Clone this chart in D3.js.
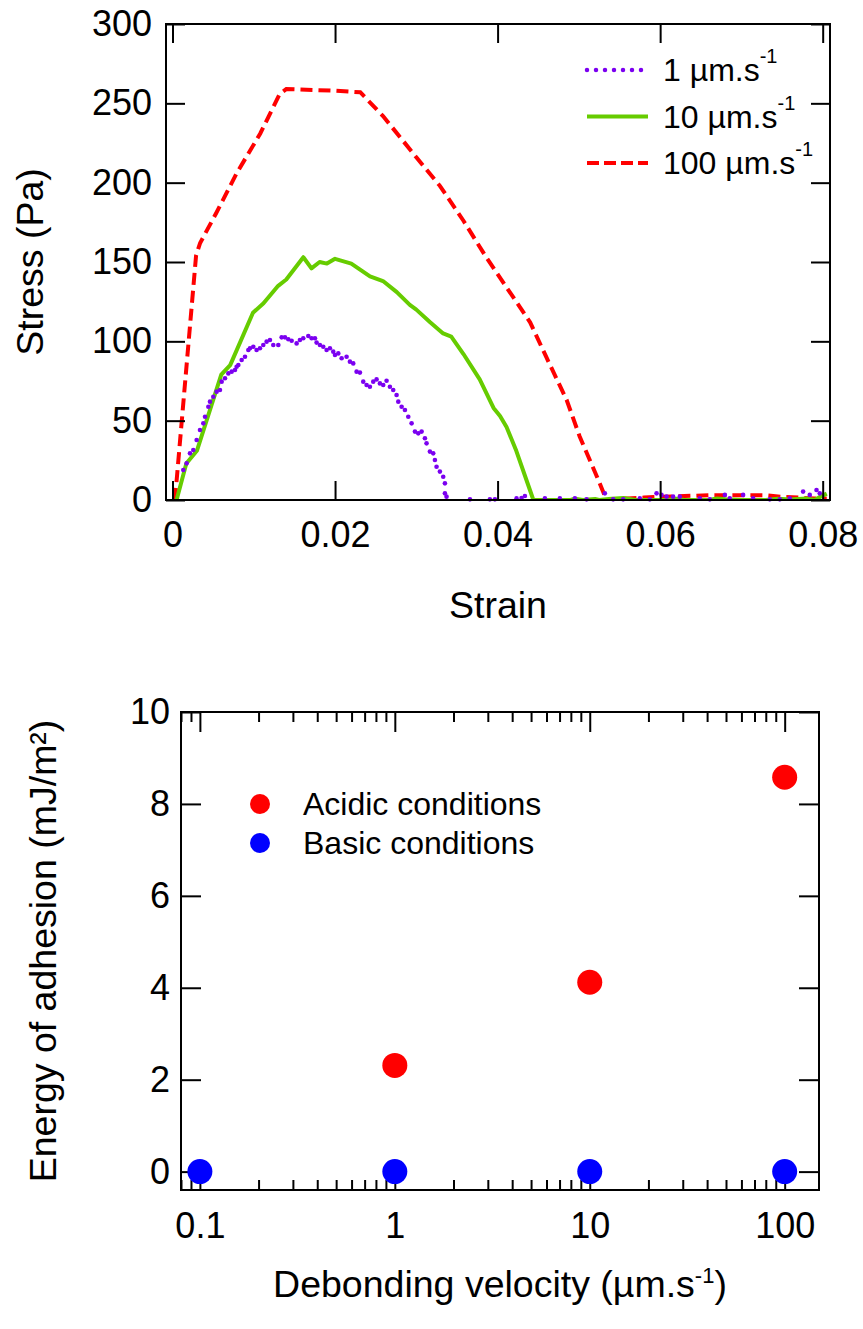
<!DOCTYPE html>
<html><head><meta charset="utf-8">
<script src="https://cdn.jsdelivr.net/npm/d3@7"></script>
<style>
html,body{margin:0;padding:0;background:#fff;}
svg text{font-family:"Liberation Sans",Arial,sans-serif;fill:#000;}
</style></head>
<body>
<svg id="c" width="863" height="1329"></svg>
<script>
// ---------- Data: top panel (stress vs strain) ----------
const strainTicks = [0, 0.02, 0.04, 0.06, 0.08];
const stressTicks = [0, 50, 100, 150, 200, 250, 300];
const seriesNames = ["1 µm.s", "10 µm.s", "100 µm.s"];
// 1 µm/s : individual points
const s1 = [
[0.00133,18.9],[0.00174,23.1],[0.00215,29.4],[0.00256,31.5],[0.00297,37.8],[0.00338,44.1],[0.00379,48.3],[0.0040,52.5],
[0.00441,58.8],[0.00461,62],[0.00502,65.1],[0.00543,68.3],[0.00584,69.3],[0.00605,74.6],[0.00646,76.7],[0.00687,79.8],
[0.00728,80.9],[0.00769,81.9],[0.00789,84],[0.0081,85.1],[0.00851,88.2],[0.00892,90.3],[0.00933,94.5],[0.00953,95.6],
[0.00994,96.6],[0.01035,94.5],[0.01076,95.6],[0.01117,97.7],[0.01158,99.8],[0.01199,100.8],[0.0124,97.7],[0.01302,97.7],
[0.01343,102.5],[0.01384,102.5],[0.01425,101.3],[0.01466,100.4],[0.01527,98.7],[0.01568,100.8],[0.01609,101.9],[0.01671,103.4],
[0.01712,101.9],[0.01753,101.9],[0.01773,99.2],[0.01814,97.7],[0.01855,96.6],[0.01896,94.5],[0.01937,95.6],[0.01978,93.5],
[0.01999,91.4],[0.0204,92.4],[0.02081,89.3],[0.02142,90.3],[0.02183,87.2],[0.02224,86.1],[0.02265,80.9],[0.02306,80.3],
[0.02347,74.6],[0.02388,72.5],[0.02429,71.4],[0.0247,74.6],[0.02511,76],[0.02552,73.5],[0.02593,72.5],[0.02634,75.2],
[0.02675,71.4],[0.02716,69.3],[0.02757,66.2],[0.02778,62],[0.02819,58.8],[0.0286,56.7],[0.02901,52.5],[0.02942,48.3],
[0.02983,43.1],[0.03024,42],[0.03065,43.1],[0.03106,38.9],[0.03126,35.7],[0.03167,30.5],[0.03208,29.4],[0.03229,25.2],
[0.03249,21],[0.0329,17.9],[0.03331,14.7],[0.03352,10.5],[0.03352,4.2],[0.03372,2.1],[0.0366,0.4],[0.03905,0.4],
[0.03967,0.4],[0.04233,1],[0.04295,1.3],[0.04336,2.5],[0.04582,1],[0.04766,1],[0.04951,1],[0.05095,0.4],
[0.0532,4.2],[0.05422,0.4],[0.05545,0.4],[0.0575,1],[0.05873,0.4],[0.05956,4.2],[0.06017,3.2],[0.06079,2.1],
[0.0616,2.1],[0.06242,2.1],[0.06488,1],[0.06611,0.4],[0.06796,3.2],[0.06857,1],[0.07021,3.2],[0.07144,1],
[0.07349,0.4],[0.07472,0.4],[0.07595,1],[0.07759,5.3],[0.07841,3.2],[0.07924,6.3],[0.07964,4.2]
];
// 10 µm/s
const s10 = [
[0.0005,0],[0.0017,23],[0.003,31],[0.006,79],[0.0071,85],[0.0099,118],[0.0112,124],[0.013,135],[0.014,139],
[0.0161,153],[0.0171,146],[0.0181,150],[0.019,149],[0.020,152],[0.022,149],[0.0243,141],[0.0259,138],[0.0276,131],
[0.0292,123],[0.030,120],[0.0317,112],[0.0333,105],[0.0343,103],[0.0358,92],[0.0378,76],[0.0395,58],[0.0403,53],
[0.0411,46],[0.0423,31],[0.044,6],[0.0444,0],[0.049,0],[0.0495,0.8],[0.0505,0],[0.052,0.6],[0.0525,0],[0.054,0.8],
[0.0555,1.2],[0.057,0],[0.061,0],[0.062,0.8],[0.063,0],[0.066,0],[0.067,1],[0.068,0.5],[0.070,0],[0.073,0],
[0.0745,0.8],[0.076,0.3],[0.078,1],[0.079,0],[0.0795,1.5],[0.0805,4]
];
// 100 µm/s
const s100 = [
[0.0003,0],[0.0029,154],[0.0034,162],[0.0054,181],[0.0079,206],[0.0108,231],[0.0132,256],[0.0140,259],[0.0198,258],
[0.0231,257],[0.0259,242],[0.0300,216],[0.0329,198],[0.0358,176],[0.0386,153],[0.0419,128],[0.0440,112],[0.0460,90],
[0.0485,63],[0.0501,40],[0.0522,15],[0.0534,0],[0.0545,0.5],[0.056,1],[0.058,1.5],[0.060,2],[0.063,2.5],[0.066,3],
[0.070,3],[0.073,3],[0.075,2],[0.077,1.5],[0.079,1],[0.0805,1]
];
const lineColors = ["#7B00F0", "#66CC00", "#FF0000"];

// ---------- Data: bottom panel ----------
const velocities = [0.1, 1, 10, 100];
const acidic = [null, 2.31, 4.12, 8.58];
const basic = [0, 0, 0, 0];
const velTicks = [0.1, 1, 10, 100];
const velTickLabels = ["0.1", "1", "10", "100"];
const energyTicks = [0, 2, 4, 6, 8, 10];
const groupNames = ["Acidic conditions", "Basic conditions"];
const groupColors = ["#FF0000", "#0000FF"];

const svg = d3.select("#c");
const FS = 36;     // tick labels
const TFS = 37.5;  // axis titles

// ================= TOP PANEL =================
const tL = 166, tR = 830, tT = 24, tB = 500;
const x1 = d3.scaleLinear().domain([-0.0008, 0.0809]).range([tL, tR]);
const y1 = d3.scaleLinear().domain([0, 300]).range([tB, tT]);

const topG = svg.append("g");
svg.append("defs").append("clipPath").attr("id", "clipTop")
  .append("rect").attr("x", tL).attr("y", tT - 5).attr("width", tR - tL).attr("height", tB - tT + 5);

const line = d3.line().x(d => x1(d[0])).y(d => y1(d[1]));
const dataG = topG.append("g");
dataG.append("path").datum(s100).attr("d", line).attr("fill", "none")
  .attr("stroke", lineColors[2]).attr("stroke-width", 4).attr("stroke-dasharray", "12,6").attr("clip-path", "url(#clipTop)");
dataG.append("path").datum(s10).attr("d", line).attr("fill", "none")
  .attr("stroke", lineColors[1]).attr("stroke-width", 4).attr("stroke-linejoin", "round").attr("clip-path", "url(#clipTop)");
dataG.selectAll("circle.p1").data(s1).join("circle").attr("class", "p1")
  .attr("cx", d => x1(d[0])).attr("cy", d => y1(d[1])).attr("r", 2.3).attr("fill", lineColors[0]);

function styleAxis(g) {
  g.select(".domain").remove();
  g.selectAll(".tick line").attr("stroke", "#000").attr("stroke-width", 2);
  g.selectAll("text").attr("font-size", FS).attr("fill", "#000")
    .attr("font-family", "Liberation Sans, Arial, sans-serif");
}
topG.append("g").attr("transform", `translate(0,${tB})`)
  .call(d3.axisBottom(x1).tickValues(strainTicks).tickFormat(d => d === 0 ? "0" : d3.format(".2f")(d)).tickSizeInner(-19).tickSizeOuter(0).tickPadding(21))
  .call(styleAxis);
topG.append("g").attr("transform", `translate(0,${tT})`)
  .call(d3.axisTop(x1).tickValues(strainTicks).tickFormat("").tickSizeInner(-19).tickSizeOuter(0))
  .call(styleAxis);
topG.append("g").attr("transform", `translate(${tL},0)`)
  .call(d3.axisLeft(y1).tickValues(stressTicks).tickSizeInner(-19).tickSizeOuter(0).tickPadding(14))
  .call(styleAxis);
topG.append("g").attr("transform", `translate(${tR},0)`)
  .call(d3.axisRight(y1).tickValues(stressTicks).tickFormat("").tickSizeInner(-19).tickSizeOuter(0))
  .call(styleAxis);
topG.append("rect").attr("x", tL).attr("y", tT).attr("width", tR - tL).attr("height", tB - tT)
  .attr("fill", "none").attr("stroke", "#000").attr("stroke-width", 2);

topG.append("text").attr("x", (tL + tR) / 2).attr("y", 618).attr("text-anchor", "middle")
  .attr("font-size", TFS).text("Strain");
topG.append("text").attr("transform", `translate(43,${(tT + tB) / 2}) rotate(-90)`).attr("text-anchor", "middle")
  .attr("font-size", TFS).text("Stress (Pa)");

const legTop = topG.append("g");
const legY = [70, 116.5, 163];
const legDash = [{dash: "0,9", cap: "round", w: 4.5}, {dash: null, cap: "butt", w: 4}, {dash: "12,5", cap: "butt", w: 4}];
seriesNames.forEach((name, i) => {
  const l = legTop.append("line").attr("x1", 587).attr("x2", 648).attr("y1", legY[i]).attr("y2", legY[i])
    .attr("stroke", lineColors[i]).attr("stroke-width", legDash[i].w).attr("stroke-linecap", legDash[i].cap);
  if (legDash[i].dash) l.attr("stroke-dasharray", legDash[i].dash);
  const t = legTop.append("text").attr("x", 663).attr("y", legY[i] + 11).attr("font-size", 32);
  t.append("tspan").text(name);
  t.append("tspan").attr("dy", -18).attr("font-size", 20).text("-1");
});

// ================= BOTTOM PANEL =================
const bL = 181, bR = 819, bT = 712, bB = 1190;
const x2 = d3.scaleLog().domain([0.08, 150]).range([bL, bR]);
const y2 = d3.scaleLinear().domain([-0.4, 10]).range([bB, bT]);
const botG = svg.append("g");

const minorTicks = [];
[0.01, 0.1, 1, 10, 100].forEach(dec => {
  for (let k = 2; k <= 9; k++) {
    const v = +(dec * k).toPrecision(6);
    if (v >= 0.08 && v <= 150) minorTicks.push(v);
  }
});

function logAxis(axisFn, y, withLabels) {
  botG.append("g").attr("transform", `translate(0,${y})`)
    .call(axisFn(x2).tickValues(velTicks).tickFormat((d, i) => withLabels ? velTickLabels[i] : "")
      .tickSizeInner(-20).tickSizeOuter(0).tickPadding(22))
    .call(styleAxis);
  botG.append("g").attr("transform", `translate(0,${y})`)
    .call(axisFn(x2).tickValues(minorTicks).tickFormat("").tickSizeInner(-10).tickSizeOuter(0))
    .call(styleAxis);
}
logAxis(d3.axisBottom, bB, true);
logAxis(d3.axisTop, bT, false);

botG.append("g").attr("transform", `translate(${bL},0)`)
  .call(d3.axisLeft(y2).tickValues(energyTicks).tickSizeInner(-20).tickSizeOuter(0).tickPadding(11))
  .call(styleAxis);
botG.append("g").attr("transform", `translate(${bR},0)`)
  .call(d3.axisRight(y2).tickValues(energyTicks).tickFormat("").tickSizeInner(-20).tickSizeOuter(0))
  .call(styleAxis);
botG.append("rect").attr("x", bL).attr("y", bT).attr("width", bR - bL).attr("height", bB - bT)
  .attr("fill", "none").attr("stroke", "#000").attr("stroke-width", 2);

const pts = [];
velocities.forEach((v, i) => {
  if (acidic[i] !== null) pts.push({v, e: acidic[i], c: groupColors[0]});
  if (basic[i] !== null) pts.push({v, e: basic[i], c: groupColors[1]});
});
botG.selectAll("circle.pt").data(pts).join("circle").attr("class", "pt")
  .attr("cx", d => x2(d.v)).attr("cy", d => y2(d.e)).attr("r", 12.5).attr("fill", d => d.c);

const legB = [804, 843];
groupNames.forEach((n, i) => {
  botG.append("circle").attr("cx", 260).attr("cy", legB[i]).attr("r", 10).attr("fill", groupColors[i]);
  botG.append("text").attr("x", 303).attr("y", legB[i] + 11).attr("font-size", 32).text(n);
});

const xt = botG.append("text").attr("x", (bL + bR) / 2).attr("y", 1297).attr("text-anchor", "middle").attr("font-size", TFS);
xt.append("tspan").text("Debonding velocity (µm.s");
xt.append("tspan").attr("dy", -14).attr("font-size", 22).text("-1");
xt.append("tspan").attr("dy", 14).text(")");

botG.append("text").attr("transform", `translate(56,${(bT + bB) / 2}) rotate(-90)`).attr("text-anchor", "middle")
  .attr("font-size", TFS).text("Energy of adhesion (mJ/m²)");
</script>
</body></html>
